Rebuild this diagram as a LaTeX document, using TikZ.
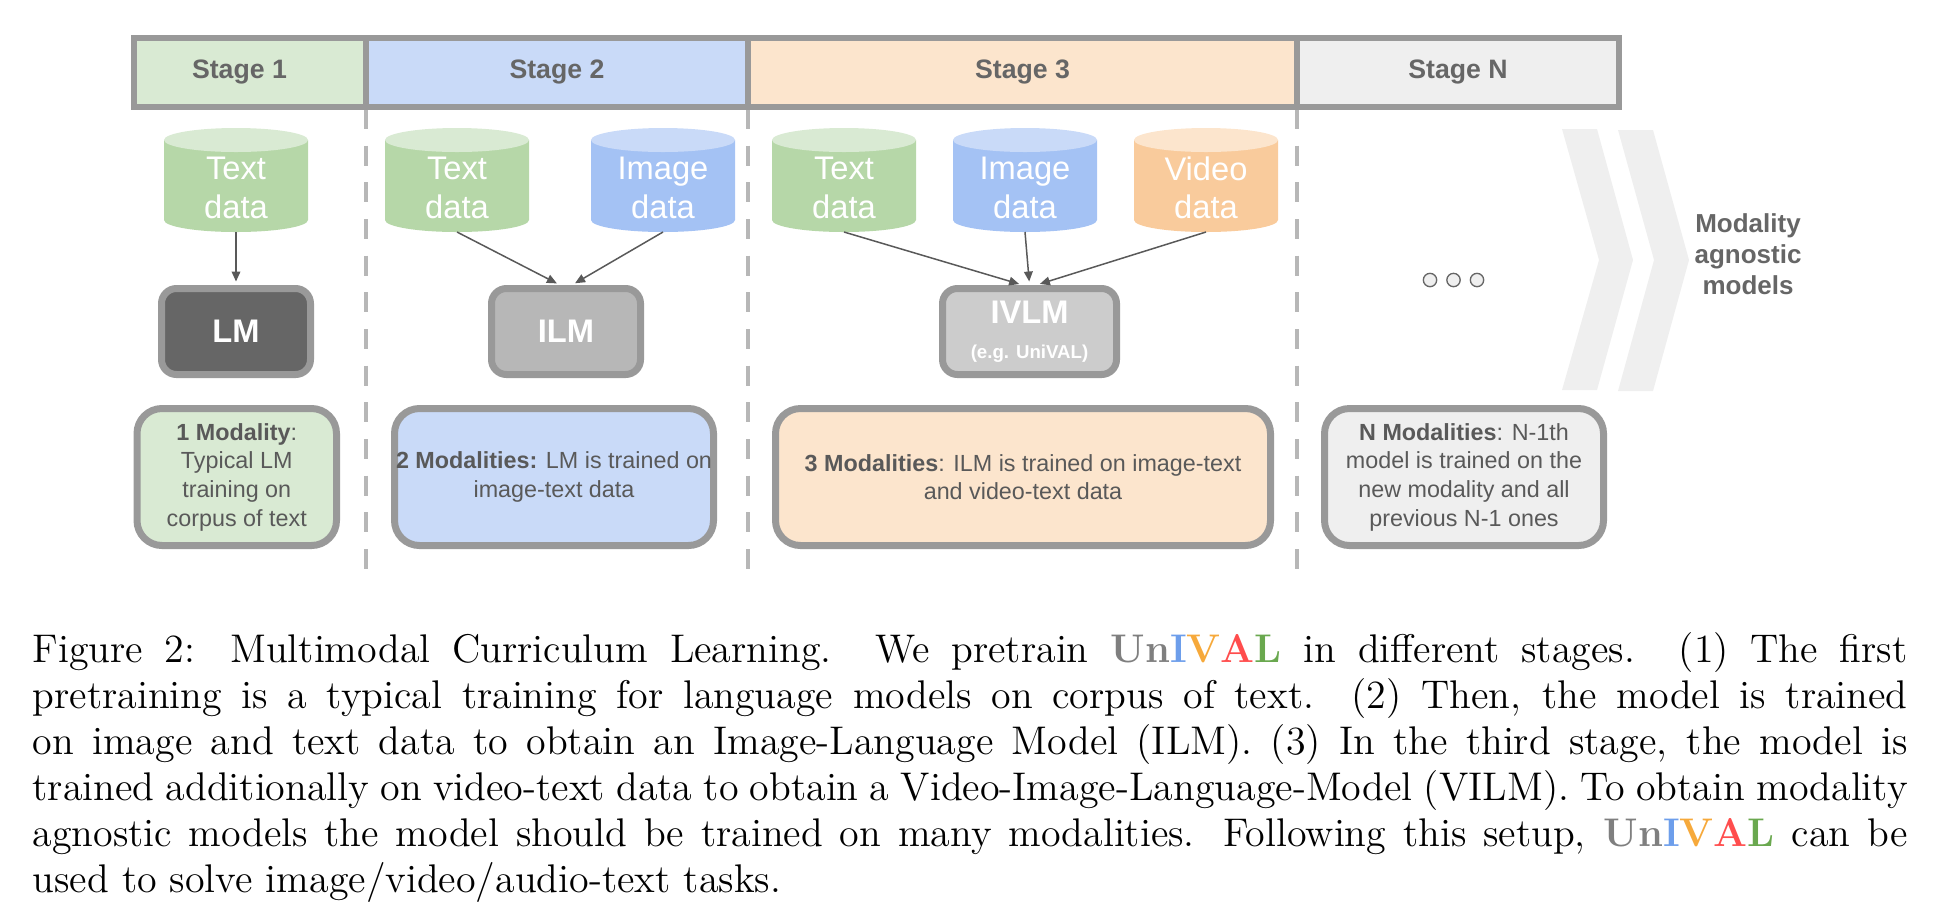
\documentclass[tikz,border=0pt]{standalone}
\usepackage{fontspec}
\newfontfamily\arial{Liberation Sans}
\usetikzlibrary{arrows.meta}
\definecolor{sonefill}{HTML}{D9EAD3}
\definecolor{stwofill}{HTML}{C9DAF8}
\definecolor{sthreefill}{HTML}{FCE5CD}
\definecolor{snfill}{HTML}{EFEFEF}
\definecolor{bordergray}{HTML}{999999}
\definecolor{stagetext}{HTML}{666666}
\definecolor{desctext}{HTML}{595959}
\definecolor{greenside}{HTML}{B6D7A8}
\definecolor{greentop}{HTML}{D9EAD3}
\definecolor{blueside}{HTML}{A4C2F4}
\definecolor{bluetop}{HTML}{C9DAF8}
\definecolor{orangeside}{HTML}{F9CB9C}
\definecolor{orangetop}{HTML}{FCE5CD}
\definecolor{lmfill}{HTML}{666666}
\definecolor{ilmfill}{HTML}{B7B7B7}
\definecolor{ivlmfill}{HTML}{CCCCCC}
\definecolor{arrowgray}{HTML}{595959}
\definecolor{divgray}{HTML}{B7B7B7}
\definecolor{chevgray}{HTML}{EFEFEF}
\definecolor{dotgray}{HTML}{666666}
\definecolor{ugray}{HTML}{7F7F7F}
\definecolor{ublue}{HTML}{6D9EEB}
\definecolor{uorange}{HTML}{F6A93B}
\definecolor{ured}{HTML}{FF4D4D}
\definecolor{ugreen}{HTML}{6AA84F}
\newcommand\unival{{\bfseries\color{ugray}Un\color{ublue}I\color{uorange}V\color{ured}A\color{ugreen}L}}
\newcommand\mycyl[6]{%
  \fill[#3] (#2-72,140) -- (#2-72,220) arc[start angle=180,end angle=0,x radius=72,y radius=12] -- (#2+72,140) -- cycle;
  \fill[#4] (#2,140) ellipse[x radius=72,y radius=12];
  \node[cyltext] (#1) at (#2,188) {#5\\#6};
  \coordinate (#1b) at (#2,232);
}
\begin{document}
\begin{tikzpicture}[x=0.3pt,y=-0.3pt,
  stagebox/.style={draw=bordergray, line width=1.8pt, minimum height=20.7pt, inner sep=0pt,
    font=\arial\bfseries\fontsize{8}{9.6}\selectfont, text=stagetext},
  modelbox/.style={draw=bordergray, line width=2.1pt, rounded corners=4.5pt, minimum height=25.8pt,
    inner sep=0pt, text=white, font=\arial\bfseries\fontsize{9.8}{11.5}\selectfont},
  descbox/.style={draw=bordergray, line width=2.1pt, rounded corners=7.5pt, minimum height=41.1pt,
    inner sep=0pt, align=center, text=desctext, font=\arial\fontsize{7}{8.6}\selectfont},
  cyltext/.style={text=white, align=center, inner sep=0pt, font=\arial\fontsize{9.8}{11.5}\selectfont},
  flow/.style={draw=arrowgray, line width=0.45pt, -{Triangle[length=3pt,width=2.6pt]}, shorten >=1.05pt},
  divider/.style={draw=divgray, line width=1.35pt, dash pattern=on 6pt off 5pt},
  dotnode/.style={circle, draw=dotgray, fill=chevgray, line width=0.4pt, minimum size=4pt, inner sep=0pt},
  agn/.style={align=center, text=stagetext, inner sep=0pt, font=\arial\bfseries\fontsize{7.8}{9.3}\selectfont}
]
\useasboundingbox (0,0) rectangle (1939,923);

% dashed dividers
\coordinate (v1t) at (366,109); \coordinate (v1b) at (366,571);
\coordinate (v2t) at (748,109); \coordinate (v2b) at (748,571);
\coordinate (v3t) at (1297,109); \coordinate (v3b) at (1297,571);
\draw[divider] (v1t) -- (v1b);
\draw[divider] (v2t) -- (v2b);
\draw[divider] (v3t) -- (v3b);

% stage bar
\node[stagebox, fill=sonefill, minimum width=69.6pt] (s1) at (250,72) {Stage 1\hspace*{6.3pt}};
\node[stagebox, fill=stwofill, minimum width=114.6pt] (s2) at (557,72) {Stage 2};
\node[stagebox, fill=sthreefill, minimum width=164.7pt] (s3) at (1022.5,72) {Stage 3};
\node[stagebox, fill=snfill, minimum width=96.6pt] (sN) at (1458,72) {Stage N};

% chevrons
\fill[chevgray] (1562,129) -- (1597,129) -- (1633,260) -- (1597,390) -- (1562,390) -- (1599,260) -- cycle;
\fill[chevgray] (1618,130) -- (1653,130) -- (1689,260) -- (1653,391) -- (1618,391) -- (1654,260) -- cycle;

% cylinders
\mycyl{ca}{236}{greenside}{greentop}{Text}{data}
\mycyl{cb}{457}{greenside}{greentop}{Text}{data}
\mycyl{cc}{663}{blueside}{bluetop}{Image}{data}
\mycyl{cd}{844}{greenside}{greentop}{Text}{data}
\mycyl{ce}{1025}{blueside}{bluetop}{Image}{data}
\mycyl{cf}{1206}{orangeside}{orangetop}{Video}{data}

% model boxes
\node[modelbox, fill=lmfill, minimum width=44.7pt] (lm) at (236,331.5) {LM};
\node[modelbox, fill=ilmfill, minimum width=44.7pt] (ilm) at (566,331.5) {ILM};
\node[modelbox, fill=ivlmfill, minimum width=52.2pt, align=center] (ivlm) at (1029.5,331.5)
  {IVLM\\[-1pt]{\fontsize{5.6}{6.7}\selectfont (e.g. UniVAL)}};

% arrows
\draw[flow] (cab) -- (lm.north);
\draw[flow] (cbb) -- ([xshift=-1.8pt]ilm.north);
\draw[flow] (ccb) -- ([xshift=1.8pt]ilm.north);
\draw[flow] (cdb) -- ([xshift=-2.1pt]ivlm.north);
\draw[flow] (ceb) -- (ivlm.north);
\draw[flow] (cfb) -- ([xshift=2.1pt]ivlm.north);

% description boxes
\node[descbox, fill=sonefill, minimum width=59.85pt] (d1) at (236.75,477)
  {\textbf{1 Modality}:\\Typical LM\\training on\\corpus of text};
\node[descbox, fill=stwofill, minimum width=95.7pt] (d2) at (554,477)
  {\textbf{2 Modalities:} LM is trained on\\image-text data};
\node[descbox, fill=sthreefill, minimum width=148.5pt] (d3) at (1023,477)
  {\textbf{3 Modalities}: ILM is trained on image-text\\and video-text data};
\node[descbox, fill=snfill, minimum width=83.7pt] (d4) at (1464,477)
  {\textbf{N Modalities}: N-1th\\model is trained on the\\new modality and all\\previous N-1 ones};

% dots
\node[dotnode] (o1) at (1430,280) {};
\node[dotnode] (o2) at (1453.5,280) {};
\node[dotnode] (o3) at (1477,280) {};

% modality agnostic
\node[agn] (agn) at (1748,254) {Modality\\agnostic\\models};

% caption
\node[anchor=north west, inner sep=0pt, align=left, font=\fontsize{12}{13.8}\selectfont] (cap) at (32,632) {%
\makebox[562.5pt][s]{Figure 2: Multimodal Curriculum Learning. We pretrain \unival{} in different stages. (1) The first}\\
\makebox[562.5pt][s]{pretraining is a typical training for language models on corpus of text. (2) Then, the model is trained}\\
\makebox[562.5pt][s]{on image and text data to obtain an Image-Language Model (ILM). (3) In the third stage, the model is}\\
\makebox[562.5pt][s]{trained additionally on video-text data to obtain a Video-Image-Language-Model (VILM). To obtain modality}\\
\makebox[562.5pt][s]{agnostic models the model should be trained on many modalities. Following this setup, \unival{} can be}\\
used to solve image/video/audio-text tasks.};
\end{tikzpicture}
\end{document}
